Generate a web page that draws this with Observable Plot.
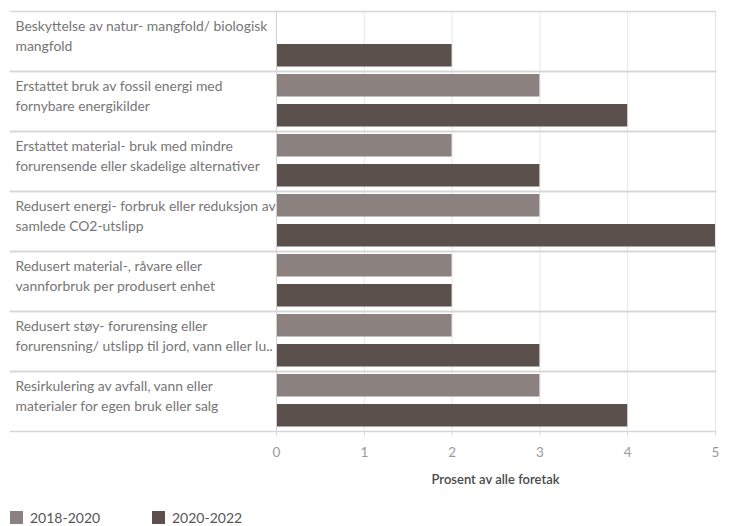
<!DOCTYPE html>
<html>
<head>
<meta charset="utf-8">
<script src="https://cdn.jsdelivr.net/npm/d3@7"></script>
<script src="https://cdn.jsdelivr.net/npm/@observablehq/plot@0.6"></script>
<style>
  body { margin: 0; background: #fff; font-family: Lato, "Open Sans", sans-serif; }
  #legend { display: flex; gap: 0; padding-left: 10px; margin-top: 14px; font-size: 14px; color: #555; }
  .item { display: flex; align-items: center; width: 142px; }
  .sw { width: 13px; height: 13px; margin-right: 7px; }
</style>
</head>
<body>
<div id="chart"></div>
<div id="legend"></div>
<script>
const categories = [
  "Beskyttelse av natur- mangfold/ biologisk\nmangfold",
  "Erstattet bruk av fossil energi med\nfornybare energikilder",
  "Erstattet material- bruk med mindre\nforurensende eller skadelige alternativer",
  "Redusert energi- forbruk eller reduksjon av\nsamlede CO2-utslipp",
  "Redusert material-, råvare eller\nvannforbruk per produsert enhet",
  "Redusert støy- forurensing eller\nforurensning/ utslipp til jord, vann eller lu..",
  "Resirkulering av avfall, vann eller\nmaterialer for egen bruk eller salg"
];
const periods = ["2018-2020", "2020-2022"];
const values2018 = [null, 3, 2, 3, 2, 2, 3];
const values2020 = [2, 4, 3, 5, 2, 3, 4];
const xTicks = [0, 1, 2, 3, 4, 5];
const colors = ["#8b817e", "#5b504c"];
const xLabel = "Prosent av alle foretak";

const data = [];
categories.forEach((c, i) => {
  if (values2018[i] != null) data.push({category: c, period: periods[0], value: values2018[i]});
  if (values2020[i] != null) data.push({category: c, period: periods[1], value: values2020[i]});
});

const plot = Plot.plot({
  width: 733,
  height: 495,
  marginLeft: 10,
  marginRight: 18,
  marginTop: 10,
  marginBottom: 64,
  style: {fontFamily: "Lato, 'Open Sans', sans-serif", fontSize: "12px"},
  x: {domain: [0, 5], range: [276, 715], ticks: xTicks, label: null},
  y: {domain: periods, padding: 0, axis: null},
  fy: {domain: categories, padding: 0, axis: null},
  color: {domain: periods, range: colors},
  marks: [
    Plot.gridX(xTicks, {stroke: "#e6e6e6", strokeOpacity: 1}),
    Plot.barX(data, {x: "value", y: "period", fy: "category", fill: "period", insetTop: 3, insetBottom: 4.5}),
    Plot.ruleX([0], {stroke: "#d0d0d0"}),
    Plot.frame({anchor: "top", stroke: "#d6d6d6", strokeWidth: 1.5}),
    Plot.frame({anchor: "bottom", stroke: "#d6d6d6", strokeWidth: 1.5}),
    Plot.text(categories, {fy: d => d, text: d => d, frameAnchor: "top-left", textAnchor: "start", dx: 5, dy: 6, lineHeight: 1.4, fill: "#767676", fontSize: 13.9}),
    Plot.axisX(xTicks, {anchor: "bottom", tickSize: 5, tickPadding: 11, stroke: "#dcdcdc", fill: "#9a9a9a", fontSize: 13.5, label: null})
  ]
});
document.getElementById("chart").appendChild(plot);

// axis title centered under the x range, placed through the x scale
const xs = plot.scale("x");
d3.select(plot).append("text")
  .attr("x", xs.apply((xs.domain[0] + xs.domain[1]) / 2))
  .attr("y", 484)
  .attr("text-anchor", "middle")
  .attr("fill", "#4a4a4a")
  .attr("font-size", 13)
  .attr("font-weight", 600)
  .text(xLabel);

const legend = document.getElementById("legend");
periods.forEach((p, i) => {
  const it = document.createElement("div");
  it.className = "item";
  it.innerHTML = `<div class="sw" style="background:${colors[i]}"></div><span>${p}</span>`;
  legend.appendChild(it);
});
</script>
</body>
</html>
